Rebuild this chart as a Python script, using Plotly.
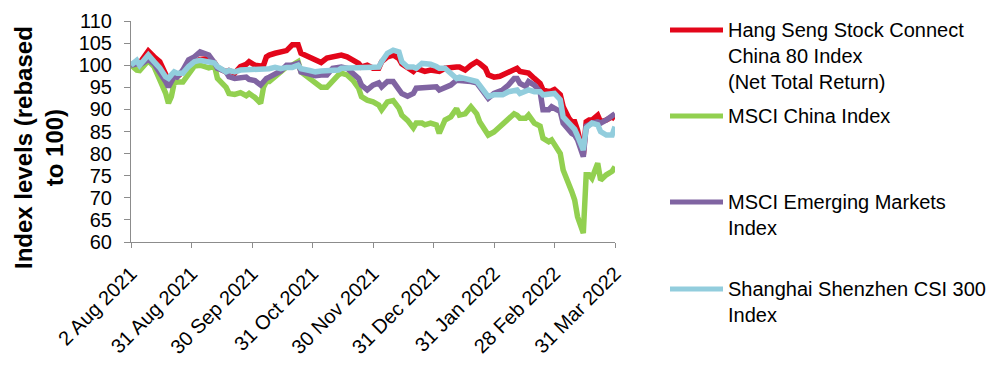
import plotly.graph_objects as go

# ---- data (trading-day index, rebased index levels) ----
day_idx = [0,2,3,6,8,10,12,13,14,15,16,18,20,22,24,27,29,30,33,34,36,38,40,41,43,45,46,47,48,50,
           52,54,56,58,59,62,64,66,68,70,72,73,75,77,79,80,82,84,86,87,89,91,93,94,96,98,99,101,102,104,
           106,107,109,111,113,114,116,118,120,121,123,124,126,128,129,131,133,134,135,137,138,140,142,143,145,146,147,149,150,152,
           153,154,155,157,158,159,160,162,163,165,167,168]

hang_seng = [100,100.8,100.5,103.2,101.9,100.8,98,96.5,97.5,98,97.4,98.3,99.5,100.5,101.3,101.5,100.6,99.5,98.5,98.8,
             98.2,99.7,100.2,100.8,100,99.8,100,101.9,102.3,102.7,103,103.3,104.6,104.6,102.7,101.9,101.2,100.6,101.6,101.9,
             101.9,102.3,101.9,101.2,100.4,99.6,100,99.3,99.3,100.8,101.9,102.3,101.5,100.3,99.3,98.6,99.3,98.9,98.6,98.9,
             98.6,98.6,99.3,99.6,99.6,99.6,98.9,100,100.8,100.4,99.3,97.8,97.3,97.5,97.8,98.6,99.3,99.3,98.6,98.2,
             98.2,97,95.9,94.4,94,94.2,94.5,93.3,90.6,88,87.2,87.2,85.3,79.7,87.2,87.6,87.6,88.7,87.2,87.6,88.3,87.8]

msci_china = [100,98.9,98.8,101,99.7,97,93.7,91.4,92.9,96,96.2,96.2,98.2,99.8,100,99.4,99.8,97,95,93.6,
              93.4,93.8,93.1,93.6,92.7,91.4,95,96.3,96.3,97.4,98.5,99.6,100,100.8,98.5,97,96.2,95,95,96.6,
              97.8,98.2,97.8,96.6,94.8,92.9,92.1,91.7,91,89.9,91.7,92,90.3,88.7,87.5,85.8,86.9,86.9,86.5,86.9,
              86.5,84.6,87.6,88.3,90.2,88.7,89,90.6,89,87.2,85.3,84.2,84.9,86,86.8,87.9,89,88.7,88,88,
              88.7,86.9,86.2,83.5,82.7,83.1,81.9,80,76.3,73.3,71.4,69.5,65.7,62,75.2,75.2,74.4,77.8,74,75.2,76,77]

msci_em = [100,100.3,100,101.3,100.3,98.5,96.3,95.1,96.3,97.5,97.3,98.9,101.2,101.9,103,102.3,100.5,99.3,98.5,97.4,
           97,97.3,97.3,96.8,96.5,95.5,96.5,97,97.3,98,98.7,100,100,100.4,98.5,98,97.6,97.8,97.8,99.3,
           99.6,99.6,99.3,98.2,97,95.5,94.4,95.5,96,95.1,96.3,96.3,94.8,93.6,93,93.6,94.8,94.8,94.8,95.1,
           95.1,94.4,94.8,95.5,96.6,96.6,96.6,96.3,96,95.1,93.3,92.5,93.6,94,94.4,95.5,97,97,95.9,95.2,
           96.3,95.5,94,89.9,89.9,90.6,90.3,89.5,86.9,85.3,84.6,84.2,83.1,79.3,86.2,86.5,86.9,87.2,86.9,87.6,88.7,89]

csi_300 = [100,101.1,100,102.3,100.8,99.4,97.4,97,97.8,98.5,98.2,98.2,99.7,100.8,101.1,100.8,100.5,99.7,98.5,98.8,
           98.5,98.9,98.9,98.9,98.9,98.9,99,99.2,99.2,99.5,99.2,99.5,99.5,100,99.2,98.8,98.5,98.7,98.8,98.8,
           98.9,99.3,99.3,99.3,99.3,99.3,99.6,99.3,99.6,100.8,102.7,103.4,103,100.8,99.6,99.6,99.3,100.4,100.4,100.2,
           99.7,99.3,99.3,98.2,97,97.3,97,96.6,96.3,95.5,94,92.9,93.3,93.3,93.3,94,94.4,94.4,93.6,94,
           94.4,94,94,93.3,93.3,93.6,93.6,92.2,88.3,86.9,86.2,85.5,84,80.8,85.8,86.5,86.9,86.5,85,84.2,84.2,86.1]

series_names = ["Hang Seng Stock Connect<br>China 80 Index<br>(Net Total Return)",
                "MSCI China Index",
                "MSCI Emerging Markets<br>Index",
                "Shanghai Shenzhen CSI 300<br>Index"]
series_values = [hang_seng, msci_china, msci_em, csi_300]
series_colors = ["#E3061A", "#92D050", "#8064A2", "#92CDDD"]

tick_idx = [0, 21, 42, 63, 84, 105, 126, 147, 168]
tick_labels = ["2 Aug 2021", "31 Aug 2021", "30 Sep 2021", "31 Oct 2021", "30 Nov 2021",
               "31 Dec 2021", "31 Jan 2022", "28 Feb 2022", "31 Mar 2022"]
y_ticks = [60, 65, 70, 75, 80, 85, 90, 95, 100, 105, 110]

# ---- layout geometry (pixels) ----
W, H = 1004, 365
L, R, T, B = 131, 615, 21, 242
FONT = "Liberation Sans, Arial, sans-serif"

def px2x(px):
    return (px - L) / (R - L)

def py2y(py):
    return (B - py) / (B - T)

fig = go.Figure()
for name, vals, col in zip(series_names, series_values, series_colors):
    fig.add_trace(go.Scatter(x=day_idx, y=vals, mode="lines",
                             name=name.replace("<br>", " "),
                             line=dict(color=col, width=5.5),
                             showlegend=False))

# manual legend
legend_y = [30, 116, 202, 289]
for name, col, ly in zip(series_names, series_colors, legend_y):
    fig.add_shape(type="line", xref="paper", yref="paper",
                  x0=px2x(670), x1=px2x(723), y0=py2y(ly), y1=py2y(ly),
                  line=dict(color=col, width=5))
    fig.add_annotation(xref="paper", yref="paper", x=px2x(726), y=py2y(ly - 13),
                       xanchor="left", yanchor="top", align="left", showarrow=False,
                       text=name, font=dict(family=FONT, size=20, color="#000"))

# y-axis title
fig.add_annotation(xref="paper", yref="paper", x=px2x(39), y=py2y(148),
                   xanchor="center", yanchor="middle", showarrow=False, textangle=-90,
                   text="<b>Index levels (rebased<br>to 100)</b>",
                   font=dict(family=FONT, size=24, color="#000"))

fig.update_layout(
    width=W, height=H,
    margin=dict(l=L, r=W - R, t=T, b=H - B, autoexpand=False),
    paper_bgcolor="white", plot_bgcolor="white",
    font=dict(family=FONT, size=20, color="#000"),
    showlegend=False,
)
fig.update_xaxes(range=[0, 168], tickmode="array", tickvals=tick_idx, ticktext=tick_labels,
                 tickangle=-45, ticks="outside", ticklen=5, tickcolor="#8c8c8c", ticklabelstandoff=6,
                 showline=True, linecolor="#8c8c8c", linewidth=1, showgrid=False, zeroline=False,
                 automargin=False,
                 tickfont=dict(family=FONT, size=20, color="#000"))
fig.update_yaxes(range=[60, 110], tickmode="array", tickvals=y_ticks,
                 ticks="outside", ticklen=6, tickcolor="#8c8c8c", ticklabelstandoff=8,
                 showline=True, linecolor="#8c8c8c", linewidth=1, showgrid=False, zeroline=False,
                 automargin=False,
                 tickfont=dict(family=FONT, size=20, color="#000"))

fig.write_html("out.html")
